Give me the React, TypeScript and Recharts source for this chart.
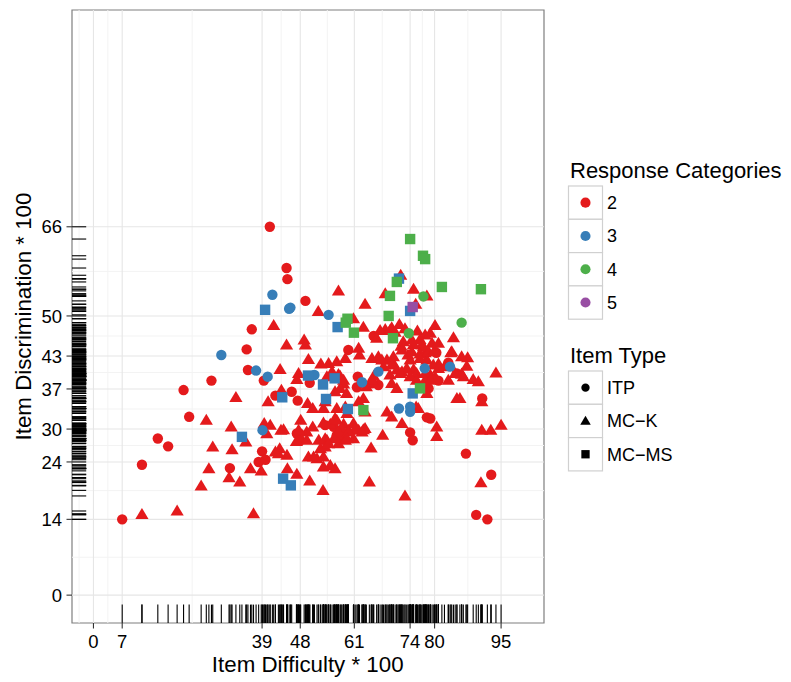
import React from 'react';
import { ScatterChart, Scatter, XAxis, YAxis, ReferenceLine, ReferenceArea } from 'recharts';

type Pt = [number, number];

// item difficulty (x) and discrimination (y), both * 100, grouped by response categories and item type
const cat2Itp: Pt[] = [
  [6.7, 13.6], [11.3, 23.4], [15.0, 28.1], [17.4, 26.7], [21.0, 36.8], [22.3, 32.0], [27.5, 38.5],
  [31.8, 22.8], [35.7, 44.1], [36.0, 40.4], [36.9, 47.7], [39.7, 38.5], [41.1, 66.1], [45.0, 58.7],
  [45.2, 56.7], [49.4, 52.8], [42.4, 35.8], [46.2, 36.5], [47.6, 34.9], [50.4, 38.1], [39.3, 25.8],
  [38.5, 23.9], [40.1, 24.3], [48.0, 29.0], [47.4, 29.0], [48.2, 27.8], [54.0, 30.5], [56.0, 30.2],
  [56.7, 28.7], [57.9, 28.1], [59.4, 44.0], [61.6, 39.2], [61.4, 37.3], [64.9, 38.0], [66.4, 37.7],
  [65.3, 46.5], [73.8, 29.2], [74.4, 27.8], [77.7, 31.9], [78.5, 31.7], [78.1, 37.1], [80.4, 38.5],
  [79.9, 43.5], [82.7, 41.7], [84.7, 39.8], [90.6, 35.3], [86.8, 25.4], [92.7, 21.6], [89.2, 14.4],
  [91.8, 13.6],
];

const cat2McK: Pt[] = [
  [57.1, 54.6], [52.4, 50.9], [42.0, 48.4], [45.0, 44.9], [49.1, 45.8], [49.4, 44.9], [50.1, 42.3],
  [53.0, 41.5], [54.8, 41.6], [56.7, 41.9], [43.5, 40.5], [47.8, 39.8], [47.4, 38.7], [33.2, 35.5],
  [40.7, 34.7], [43.8, 36.8], [49.9, 34.4], [51.1, 33.5], [53.6, 33.5], [26.3, 31.4], [32.1, 30.2],
  [39.8, 30.8], [41.2, 30.5], [43.7, 29.6], [44.3, 29.7], [48.3, 31.4], [49.7, 29.3], [51.1, 30.2],
  [53.6, 30.9], [55.2, 30.7], [35.5, 27.5], [27.8, 26.6], [32.3, 26.1], [43.4, 26.3], [45.1, 25.1],
  [47.3, 27.6], [50.1, 24.8], [52.1, 24.5], [52.9, 26.3], [54.4, 27.8], [26.9, 22.7], [31.6, 21.1],
  [34.1, 20.3], [36.6, 22.7], [39.1, 22.3], [45.2, 22.7], [47.4, 21.7], [53.6, 23.0], [56.3, 22.7],
  [50.4, 20.5], [53.5, 18.8], [25.1, 19.6], [11.3, 14.5], [19.5, 15.1], [37.3, 14.6],
  [71.6, 57.4], [68.0, 54.1], [74.6, 54.9], [77.7, 53.7], [63.3, 52.2], [75.1, 52.2], [79.6, 48.4],
  [62.9, 48.1], [68.0, 47.7], [69.5, 48.0], [71.3, 48.6], [66.0, 46.1], [75.5, 47.4], [77.3, 46.7],
  [83.9, 46.2], [71.7, 44.7], [74.6, 45.0], [76.5, 44.9], [78.9, 45.2], [61.8, 44.3], [62.0, 43.1],
  [64.9, 42.5], [66.4, 42.8], [68.4, 42.2], [69.9, 41.6], [73.3, 43.1], [73.8, 42.2], [77.3, 43.5],
  [77.7, 42.2], [83.3, 43.5], [87.2, 42.6], [87.0, 41.1], [80.4, 41.5], [81.8, 41.0], [58.7, 42.5],
  [55.6, 40.1], [57.5, 39.3], [58.3, 37.9], [59.0, 36.2], [65.3, 39.3], [64.9, 38.6], [69.5, 38.0],
  [70.7, 37.1], [71.9, 40.1], [74.6, 40.5], [75.3, 39.8], [78.5, 39.5], [79.6, 39.2], [85.8, 39.7],
  [88.5, 38.7], [89.7, 38.3], [93.8, 39.9], [63.6, 37.4], [62.9, 35.3], [77.7, 36.2], [84.7, 35.3],
  [85.4, 35.3], [90.5, 34.7], [75.2, 33.8], [75.7, 33.5], [68.4, 32.9], [69.5, 32.0], [56.7, 33.5],
  [71.9, 30.8], [80.0, 30.2], [80.0, 28.5], [90.5, 29.6], [92.6, 29.6], [95.0, 30.5], [67.4, 28.7],
  [64.7, 26.4], [60.6, 28.1], [61.8, 29.6], [62.9, 29.7], [56.7, 31.4], [58.3, 30.7], [59.4, 29.6],
  [64.3, 20.3], [72.6, 17.8], [90.3, 20.2],
  [57.1, 39.6], [58.3, 38.6], [54.4, 39.2],
  [60.6, 49.6], [66.8, 47.5], [69.1, 47.5], [70.3, 47.2], [72.6, 47.8], [78.5, 47.0], [76.1, 45.9],
  [80.4, 45.2], [83.5, 43.7], [85.8, 42.8], [72.2, 45.5], [74.2, 45.8], [76.9, 44.6], [71.9, 44.0],
  [74.2, 43.7], [76.1, 43.3], [78.1, 43.7], [79.5, 43.9], [67.2, 42.2], [69.9, 42.8], [76.1, 42.5],
  [67.6, 41.0], [69.5, 41.3], [70.7, 40.4], [73.0, 40.7], [77.3, 39.8], [79.2, 41.3], [80.4, 40.7],
  [69.1, 39.5], [71.5, 39.8], [73.8, 39.2], [75.3, 38.6], [77.3, 38.6], [78.5, 38.6], [82.7, 38.6],
  [84.3, 39.8], [86.2, 39.2],
  [54.0, 34.7], [56.3, 36.5], [57.5, 37.1], [58.7, 33.8], [59.1, 32.6], [40.4, 29.0], [47.8, 29.6],
  [56.3, 31.7], [57.9, 29.9], [57.1, 29.3], [49.7, 27.8], [52.5, 27.8], [54.0, 28.1], [56.0, 28.1],
  [57.1, 27.2], [58.7, 27.8], [43.1, 25.4], [42.4, 25.7], [51.3, 24.8], [54.0, 26.6], [54.8, 27.2],
  [53.6, 24.8], [55.2, 23.3],
  [61.8, 34.7], [63.3, 32.9], [60.6, 30.8], [61.0, 29.9], [59.4, 29.3], [59.1, 28.1], [63.3, 29.9],
  [62.6, 29.3],
];

const cat3Itp: Pt[] = [
  [41.7, 53.9], [45.6, 51.4], [45.9, 51.6], [54.8, 50.3], [29.8, 43.1], [37.9, 40.3], [40.6, 39.2],
  [39.4, 29.6], [51.5, 39.5], [66.4, 40.1], [62.6, 38.2], [77.2, 40.7], [83.1, 41.0], [71.2, 33.5],
  [73.8, 33.8], [73.8, 32.9],
];

const cat3McMs: Pt[] = [
  [40.0, 51.2], [56.9, 48.1], [50.0, 39.4], [56.2, 38.9], [53.5, 37.8], [44.0, 35.5], [54.2, 35.2],
  [34.6, 28.4], [44.2, 20.9], [46.0, 19.7], [71.2, 56.8], [73.8, 51.0], [59.3, 33.4], [74.4, 36.2],
];

const cat4Itp: Pt[] = [[76.9, 53.6], [85.8, 48.9], [73.5, 47.0]];

const cat4McMs: Pt[] = [
  [73.8, 63.9], [76.8, 60.9], [77.3, 60.3], [70.7, 56.2], [81.2, 55.3], [90.3, 54.9], [69.1, 53.7],
  [68.8, 50.1], [59.2, 49.6], [58.8, 48.9], [60.7, 47.1], [69.8, 46.1], [76.1, 37.1], [62.9, 33.2],
];

const cat5McMs: Pt[] = [[74.4, 51.7]];

// breaks sit on the data quantiles, labels are rounded
const xTicks = [0, 6.7, 39.3, 48.2, 60.8, 73.8, 79.5, 95.0];
const yTicks = [0, 13.6, 23.9, 29.8, 37.0, 42.9, 50.1, 66.1];

const categories = ['2', '3', '4', '5'];
const itemTypes = ['ITP', 'MC\u2212K', 'MC\u2212MS'];

const COLORS: Record<string, string> = {
  '2': '#E41A1C',
  '3': '#377EB8',
  '4': '#4DAF4A',
  '5': '#984EA3',
};

const FONT = '"Liberation Sans", Arial, Helvetica, sans-serif';
const DOMAIN: [number, number] = [-5, 105];

const mids = (t: number[]) => t.slice(1).map((v, i) => (v + t[i]) / 2);
const xMinor = [xTicks[0] - (xTicks[1] - xTicks[0]) / 2, ...mids(xTicks)];
const yMinor = mids(yTicks);

type Shape = 'circle' | 'triangle' | 'square';

const makeShape = (kind: Shape, fill: string, s = 1) => (p: any) => {
  const { cx, cy } = p;
  if (cx == null || cy == null) return <g />;
  if (kind === 'circle') return <circle cx={cx} cy={cy} r={5.2 * s} fill={fill} />;
  if (kind === 'square')
    return <rect x={cx - 5.2 * s} y={cy - 5.2 * s} width={10.4 * s} height={10.4 * s} fill={fill} />;
  const h = 6.4 * s;
  return (
    <polygon
      points={`${cx},${cy - h} ${cx + 6.6 * s},${cy + 4.6 * s} ${cx - 6.6 * s},${cy + 4.6 * s}`}
      fill={fill}
    />
  );
};

const series = [
  { data: cat2Itp, cat: '2', kind: 'circle' as Shape },
  { data: cat2McK, cat: '2', kind: 'triangle' as Shape },
  { data: cat3Itp, cat: '3', kind: 'circle' as Shape },
  { data: cat3McMs, cat: '3', kind: 'square' as Shape },
  { data: cat4Itp, cat: '4', kind: 'circle' as Shape },
  { data: cat4McMs, cat: '4', kind: 'square' as Shape },
  { data: cat5McMs, cat: '5', kind: 'square' as Shape },
];

const allPts = series.flatMap((s) => s.data);
const rugX = allPts.map(([x]) => ({ x, y: DOMAIN[0] }));
const rugY = allPts.map(([, y]) => ({ x: DOMAIN[0], y }));

// rug marks are 3% of the panel
const rugXShape = (p: any) => (
  <line x1={p.cx} x2={p.cx} y1={p.cy} y2={p.cy - 18.4} stroke="#000" strokeWidth={1.1} />
);
const rugYShape = (p: any) => (
  <line x1={p.cx} x2={p.cx + 14.2} y1={p.cy} y2={p.cy} stroke="#000" strokeWidth={1.1} />
);

const round = (v: number) => String(Math.round(v));

const Legend = () => {
  const keyX = 568.5;
  const keyW = 34;
  const keyH = 33.3;
  const catTop = 186;
  const typeTop = 371;
  const shapes: Shape[] = ['circle', 'triangle', 'square'];
  return (
    <svg
      width={791}
      height={682}
      style={{ position: 'absolute', left: 0, top: 0, pointerEvents: 'none', fontFamily: FONT }}
    >
      <text x={307.7} y={672} textAnchor="middle" fontSize={22.3} fill="#000">
        Item Difficulty * 100
      </text>
      <text transform="translate(31,316.5) rotate(-90)" textAnchor="middle" fontSize={22.3} fill="#000">
        Item Discrimination * 100
      </text>

      <text x={570} y={178.3} fontSize={22} fill="#000">Response Categories</text>
      {categories.map((c, i) => {
        const y = catTop + i * keyH;
        return (
          <g key={c}>
            <rect x={keyX} y={y} width={keyW} height={keyH} fill="#fff" stroke="#d0d0d0" strokeWidth={1.2} />
            {makeShape('circle', COLORS[c], 0.97)({ cx: keyX + keyW / 2, cy: y + keyH / 2 })}
            <text x={607} y={y + keyH / 2} dy="0.36em" fontSize={18} fill="#000">{c}</text>
          </g>
        );
      })}

      <text x={570} y={363.3} fontSize={22} fill="#000">Item Type</text>
      {itemTypes.map((t, i) => {
        const y = typeTop + i * keyH;
        return (
          <g key={t}>
            <rect x={keyX} y={y} width={keyW} height={keyH} fill="#fff" stroke="#d0d0d0" strokeWidth={1.2} />
            {makeShape(shapes[i], '#000', 0.8)({ cx: keyX + keyW / 2, cy: y + keyH / 2 })}
            <text x={607} y={y + keyH / 2} dy="0.36em" fontSize={18} fill="#000">{t}</text>
          </g>
        );
      })}
    </svg>
  );
};

export default function App() {
  return (
    <div
      style={{
        position: 'absolute',
        left: 0,
        top: 0,
        width: 791,
        height: 682,
        background: '#fff',
        fontFamily: FONT,
      }}
    >
      <ScatterChart width={791} height={682} margin={{ top: 10, right: 247, bottom: 0, left: 0 }}>
        <XAxis
          type="number"
          dataKey="x"
          domain={DOMAIN}
          ticks={xTicks}
          interval={0}
          allowDataOverflow
          height={59}
          axisLine={false}
          tickSize={5.5}
          tickMargin={6}
          tickLine={{ stroke: '#333', strokeWidth: 1.1 }}
          tick={{ fill: '#000', fontSize: 18.5 }}
          tickFormatter={round}
        />
        <YAxis
          type="number"
          dataKey="y"
          domain={DOMAIN}
          ticks={yTicks}
          interval={0}
          allowDataOverflow
          width={72}
          axisLine={false}
          tickSize={5.5}
          tickMargin={4.5}
          tickLine={{ stroke: '#333', strokeWidth: 1.1 }}
          tick={{ fill: '#000', fontSize: 18.5 }}
          tickFormatter={round}
        />
        {xMinor.map((v) => (
          <ReferenceLine key={`xm${v}`} x={v} stroke="#f3f3f3" strokeWidth={1} />
        ))}
        {yMinor.map((v) => (
          <ReferenceLine key={`ym${v}`} y={v} stroke="#f3f3f3" strokeWidth={1} />
        ))}
        {xTicks.map((v) => (
          <ReferenceLine key={`x${v}`} x={v} stroke="#e6e6e6" strokeWidth={1.1} />
        ))}
        {yTicks.map((v) => (
          <ReferenceLine key={`y${v}`} y={v} stroke="#e6e6e6" strokeWidth={1.1} />
        ))}
        <Scatter data={rugX} shape={rugXShape} isAnimationActive={false} />
        <Scatter data={rugY} shape={rugYShape} isAnimationActive={false} />
        {series.map((s, i) => (
          <Scatter
            key={i}
            data={s.data.map(([x, y]) => ({ x, y }))}
            shape={makeShape(s.kind, COLORS[s.cat])}
            isAnimationActive={false}
          />
        ))}
        <ReferenceArea
          x1={DOMAIN[0]}
          x2={DOMAIN[1]}
          y1={DOMAIN[0]}
          y2={DOMAIN[1]}
          fill="none"
          fillOpacity={0}
          stroke="#7f7f7f"
          strokeWidth={1.2}
        />
      </ScatterChart>
      <Legend />
    </div>
  );
}
